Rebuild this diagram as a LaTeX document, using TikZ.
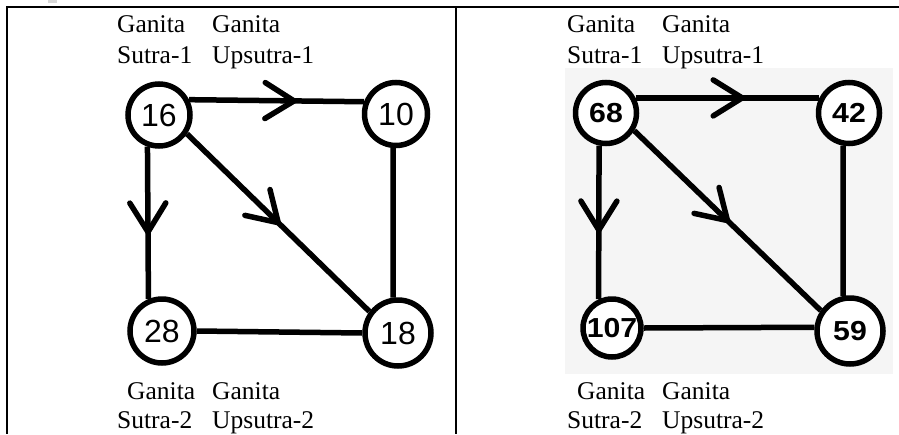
\documentclass[tikz,border=0pt]{standalone}
\usepackage{fontspec}
\setmainfont{Liberation Serif}
\newfontfamily\numfont{Liberation Sans}
\newfontfamily\numfontb[FakeStretch=1.1]{Liberation Sans}
\usetikzlibrary{decorations.markings}
\definecolor{panelgray}{RGB}{245,245,245}
\definecolor{speck}{RGB}{215,215,215}
\begin{document}
\begin{tikzpicture}[x=1pt,y=-1pt,
  vtx/.style={circle, draw, line width=5.5pt, inner sep=0pt, minimum size=#1,
    font=\numfont\fontsize{32}{32}\selectfont},
  vtxb/.style={vtx=#1, font=\numfontb\bfseries\fontsize{27.5}{27.5}\selectfont},
  edge/.style={line width=5.5pt},
  midarrow/.style={postaction={decorate}, decoration={markings,
    mark=at position #1 with {\draw[line width=5.5pt, line cap=round, line join=miter]
      (-29pt,18pt) -- (0pt,0pt) -- (-29pt,-18pt);}}},
  lbl/.style={anchor=base west, inner sep=0pt, font=\fontsize{25.5}{30}\selectfont},
  rule/.style={line width=2pt}]
\useasboundingbox (0,0) rectangle (899,434);
% table rules
\coordinate (tl) at (6.5,7);
\coordinate (tr) at (899,7);
\coordinate (bl) at (6.5,434);
\coordinate (mt) at (456,7);
\coordinate (mb) at (456,434);
\fill[speck] (48,0) rectangle (57,3);
\draw[rule] (tr) -- (tl) -- (bl);
\draw[rule] (mt) -- (mb);
% right panel background
\fill[panelgray] (565,68) rectangle (893,374);

% ---------- left panel ----------
\node[lbl] (a1) at (117,32) {Ganita};
\node[lbl] (a2) at (212,32) {Ganita};
\node[lbl] (a3) at (117,63) {Sutra-1};
\node[lbl] (a4) at (212,63) {Upsutra-1};
\node[lbl] (a5) at (127,399) {Ganita};
\node[lbl] (a6) at (212,399) {Ganita};
\node[lbl] (a7) at (117,428) {Sutra-2};
\node[lbl] (a8) at (212,428) {Upsutra-2};

\node[vtx=62pt] (n16) at (159,115) {16};
\node[vtx=63pt] (n10) at (396,114) {10};
\node[vtx=64pt] (n28) at (162,331) {28};
\node[vtx=66pt] (n18) at (398,333) {18};

\draw[edge, midarrow=0.6] (n16.27) -- (n10.159);
\draw[edge, midarrow=0.56] (n16.250) -- (n28.113);
\draw[edge, midarrow=0.5] (n16.326) -- (n18.143);
\draw[edge] (n10.265) -- (n18.98);
\draw[edge] (n28.east) -- (n18.west);

% ---------- right panel ----------
\node[lbl] (b1) at (567,32) {Ganita};
\node[lbl] (b2) at (662,32) {Ganita};
\node[lbl] (b3) at (567,63) {Sutra-1};
\node[lbl] (b4) at (662,63) {Upsutra-1};
\node[lbl] (b5) at (577,399) {Ganita};
\node[lbl] (b6) at (662,399) {Ganita};
\node[lbl] (b7) at (567,428) {Sutra-2};
\node[lbl] (b8) at (662,428) {Upsutra-2};

\node[vtxb=61pt, fill=white] (n68) at (606,113) {68};
\node[vtxb=61pt, fill=white] (n42) at (849,113) {42};
\node[vtxb=58pt, fill=white] (n107) at (612,328) {107};
\node[vtxb=66pt, fill=white] (n59) at (850,331) {59};

\draw[edge, midarrow=0.58] (n68.27) -- (n42.153);
\draw[edge, midarrow=0.55] (n68.258) -- (n107.115);
\draw[edge, midarrow=0.5] (n68.328) -- (n59.145);
\draw[edge] (n42.260) -- (n59.101);
\draw[edge] (n107.east) -- (n59.174);
\end{tikzpicture}
\end{document}
